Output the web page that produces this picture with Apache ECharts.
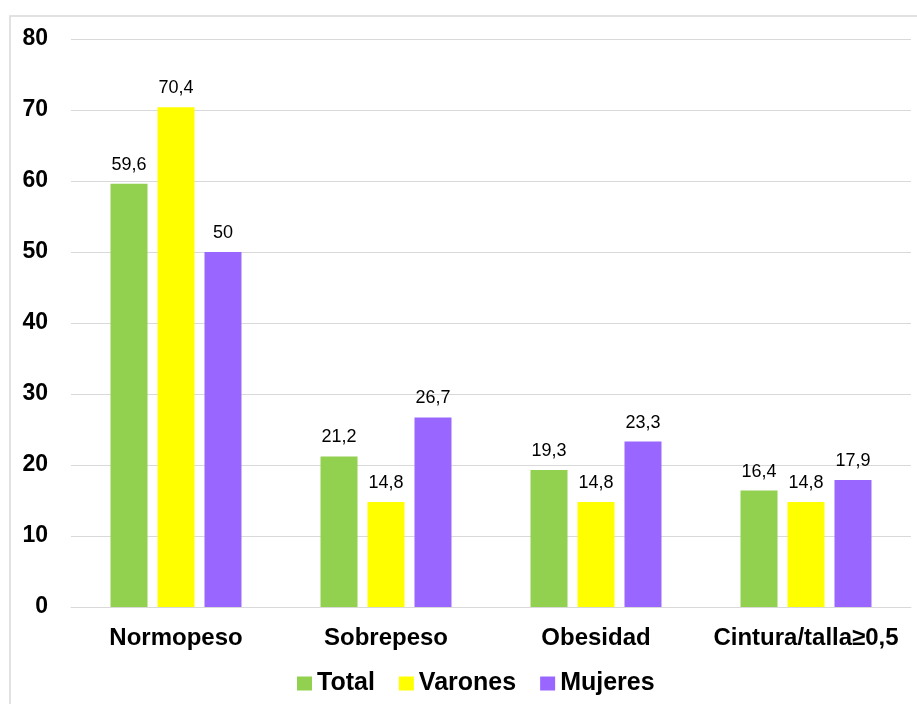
<!DOCTYPE html>
<html>
<head>
<meta charset="utf-8">
<script src="https://cdn.jsdelivr.net/npm/echarts@6/dist/echarts.min.js"></script>
<style>
  html, body { margin: 0; padding: 0; background: #fff; }
  #chart { width: 917px; height: 704px; }
</style>
</head>
<body>
<div id="chart"></div>
<script>
// Body-weight categories and prevalence (%) by group
const categories = ['Normopeso', 'Sobrepeso', 'Obesidad', 'Cintura/talla\u22650,5'];
const totalValues = [59.6, 21.2, 19.3, 16.4];
const varonesValues = [70.4, 14.8, 14.8, 14.8];
const mujeresValues = [50, 26.7, 23.3, 17.9];
const seriesNames = ['Total', 'Varones', 'Mujeres'];
const seriesColors = ['#92D050', '#FFFF00', '#9966FF'];

const font = '"Liberation Sans", Arial, sans-serif';
const fmt = p => String(p.value).replace('.', ',');

const chart = echarts.init(document.getElementById('chart'), null, { renderer: 'canvas' });

function barSeries(name, data, color) {
  return {
    name: name,
    type: 'bar',
    data: data,
    barWidth: 37,
    barGap: '27%',
    itemStyle: { color: color },
    label: {
      show: true,
      position: 'top',
      distance: 10,
      formatter: fmt,
      fontFamily: font,
      fontSize: 18,
      color: '#000'
    }
  };
}

chart.setOption({
  animation: false,
  graphic: [{
    type: 'rect',
    shape: { x: 10, y: 16, width: 930, height: 720 },
    style: { fill: 'none', stroke: '#d9d9d9', lineWidth: 1.5 },
    silent: true
  }],
  grid: { left: 71, right: 6, top: 39, bottom: 97, containLabel: false },
  legend: {
    bottom: 3,
    left: 292,
    itemWidth: 15,
    itemHeight: 14,
    itemGap: 24,
    icon: 'rect',
    textStyle: { fontFamily: font, fontSize: 25, fontWeight: 'bold', color: '#000', padding: [0, 0, 0, 0] },
    data: seriesNames
  },
  xAxis: {
    type: 'category',
    data: categories,
    axisLine: { show: true, lineStyle: { color: '#d9d9d9', width: 1 } },
    axisTick: { show: false },
    axisLabel: { interval: 0, fontFamily: font, fontSize: 24, fontWeight: 'bold', color: '#000', margin: 19 }
  },
  yAxis: {
    type: 'value',
    min: 0,
    max: 80,
    interval: 10,
    axisLine: { show: false },
    axisTick: { show: false },
    splitLine: { lineStyle: { color: '#d9d9d9', width: 1 } },
    axisLabel: { fontFamily: font, fontSize: 23, fontWeight: 'bold', color: '#000', margin: 23 }
  },
  series: [
    barSeries(seriesNames[0], totalValues, seriesColors[0]),
    barSeries(seriesNames[1], varonesValues, seriesColors[1]),
    barSeries(seriesNames[2], mujeresValues, seriesColors[2])
  ]
});
</script>
</body>
</html>
